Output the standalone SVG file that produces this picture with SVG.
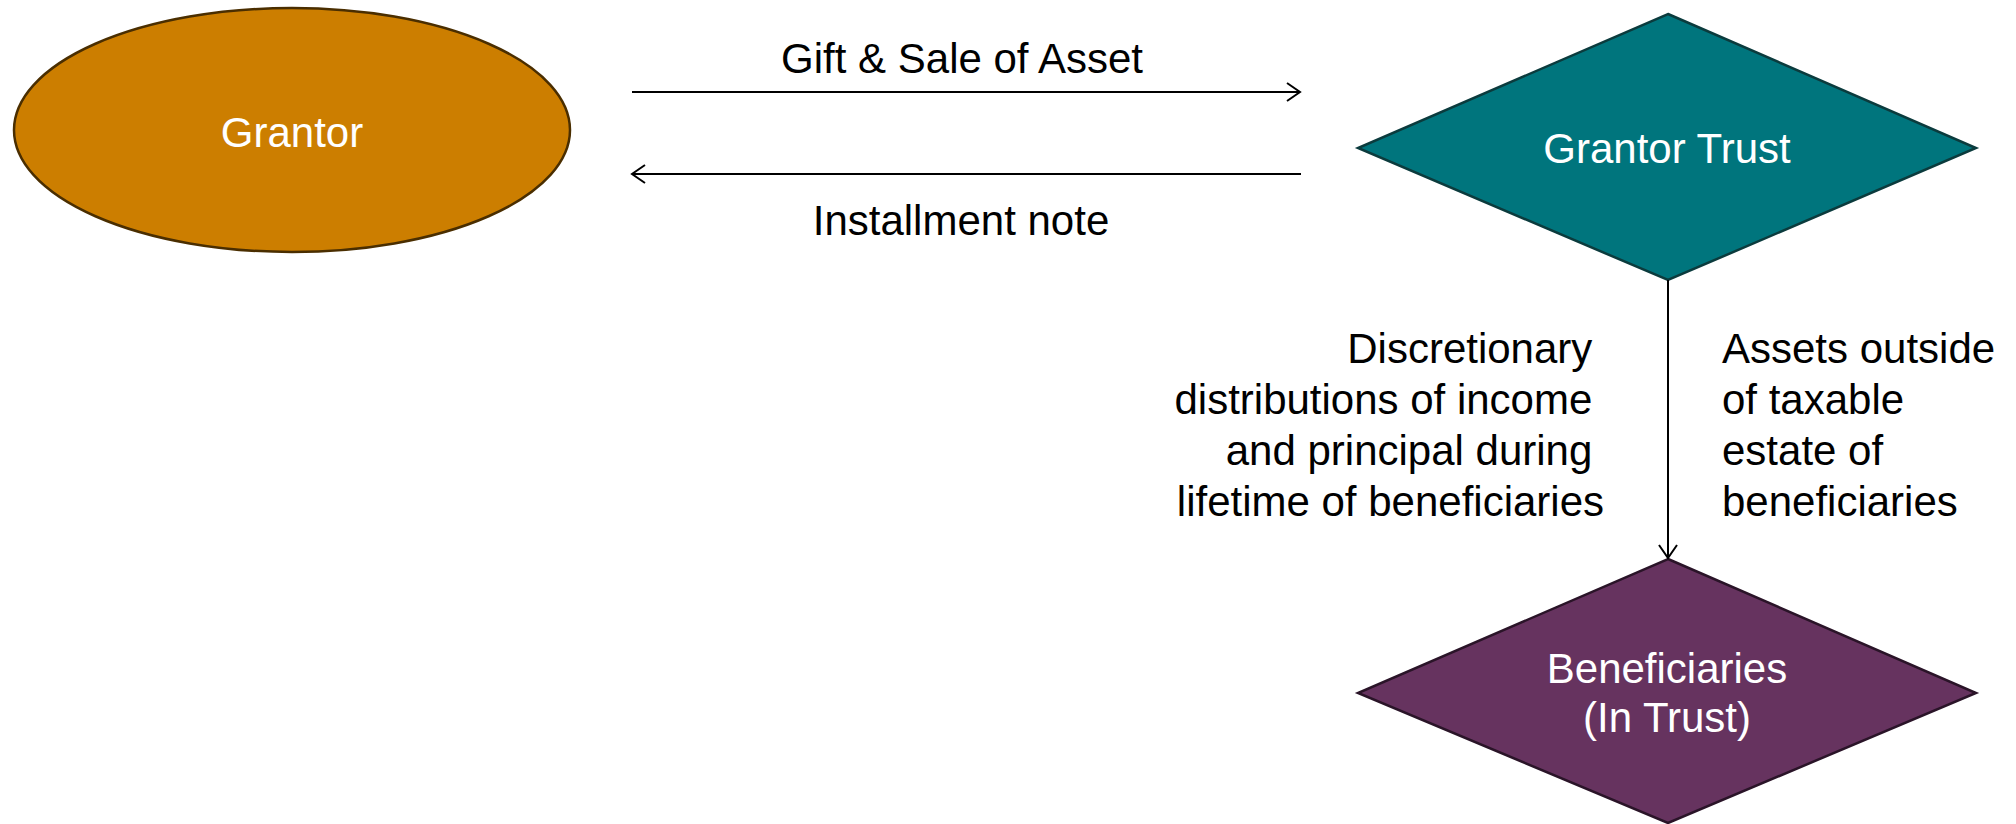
<svg xmlns="http://www.w3.org/2000/svg" width="2016" height="824" viewBox="0 0 2016 824">
  <style>
    .lbl { font-family: "Liberation Sans", Arial, sans-serif; font-size: 42px; fill: #000; }
    .nodetxt { font-family: "Liberation Sans", Arial, sans-serif; fill: #fff; text-anchor: middle; font-size: 42px; }
    .conn { stroke: #000; stroke-width: 2; fill: none; }
  </style>
  <defs>
    <marker id="open" viewBox="0 0 20 24" refX="18" refY="12" markerWidth="20" markerHeight="24" markerUnits="userSpaceOnUse" orient="auto">
      <path d="M5,3 L18,12 L5,21" fill="none" stroke="#000" stroke-width="2"/>
    </marker>
  </defs>
  <rect width="2016" height="824" fill="#fff"/>

  <g id="grantor">
    <ellipse cx="292" cy="130" rx="278" ry="122" fill="#CC7E00" stroke="#4A2E00" stroke-width="2.5"/>
    <text class="nodetxt" x="292" y="147" font-size="48">Grantor</text>
  </g>

  <g id="grantor-trust">
    <polygon points="1668,14 1976,148 1668,280 1358,148" fill="#00757D" stroke="#0B3B3D" stroke-width="2.5"/>
    <text class="nodetxt" x="1667" y="163">Grantor Trust</text>
  </g>

  <g id="beneficiaries">
    <polygon points="1668,559 1976,693 1668,823 1358,693" fill="#66335F" stroke="#2A1428" stroke-width="2.5"/>
    <text class="nodetxt" x="1667" y="683">Beneficiaries</text>
    <text class="nodetxt" x="1667" y="732">(In Trust)</text>
  </g>

  <g id="connectors">
    <line class="conn" x1="632" y1="92" x2="1300" y2="92" marker-end="url(#open)"/>
    <line class="conn" x1="1301" y1="174" x2="632" y2="174" marker-end="url(#open)"/>
    <line class="conn" x1="1668" y1="280" x2="1668" y2="558" marker-end="url(#open)"/>
  </g>

  <g id="labels">
    <text class="lbl" x="962" y="73" text-anchor="middle" font-size="47">Gift &amp; Sale of Asset</text>
    <text class="lbl" x="961" y="235" text-anchor="middle" font-size="47">Installment note</text>
    <text class="lbl" text-anchor="end">
      <tspan x="1604" y="363">Discretionary</tspan>
      <tspan x="1604" y="414">distributions of income</tspan>
      <tspan x="1604" y="465">and principal during</tspan>
      <tspan x="1604" y="516">lifetime of beneficiaries</tspan>
    </text>
    <text class="lbl">
      <tspan x="1722" y="363">Assets outside</tspan>
      <tspan x="1722" y="414">of taxable</tspan>
      <tspan x="1722" y="465">estate of</tspan>
      <tspan x="1722" y="516">beneficiaries</tspan>
    </text>
  </g>
</svg>
